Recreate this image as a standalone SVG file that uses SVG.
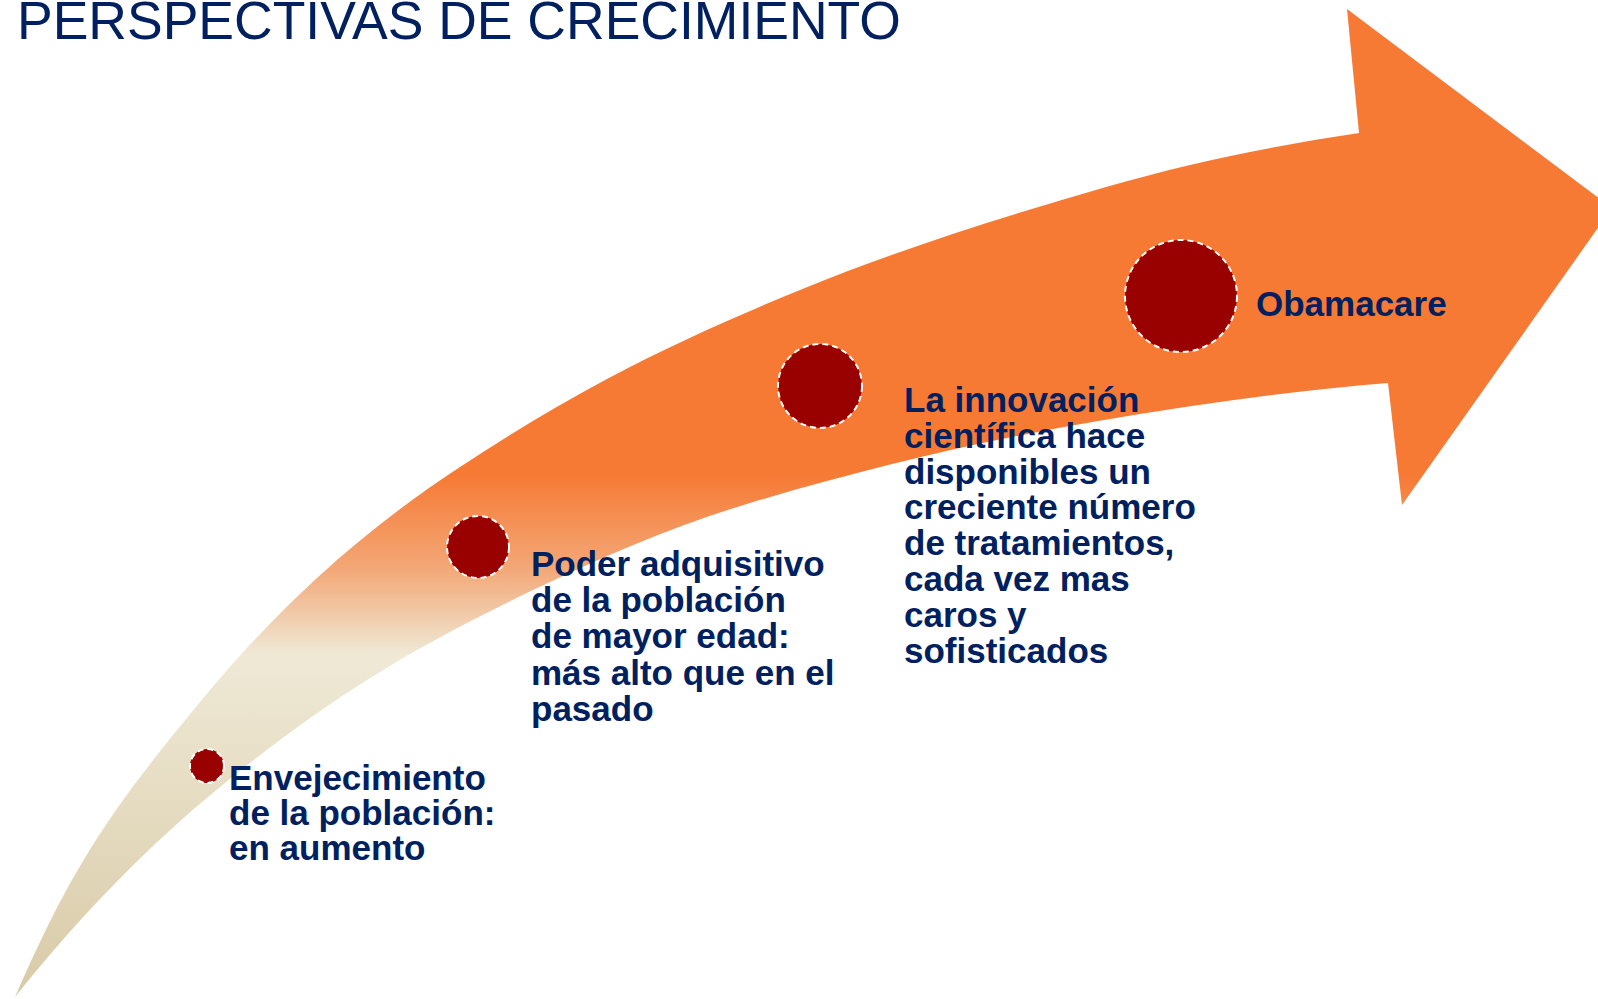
<svg xmlns="http://www.w3.org/2000/svg" width="1598" height="999" viewBox="0 0 1598 999">
<defs>
<linearGradient id="arrowGrad" gradientUnits="userSpaceOnUse" x1="0" y1="0" x2="0" y2="999">
<stop offset="0" stop-color="#F67A34"/>
<stop offset="0.475" stop-color="#F67A34"/>
<stop offset="0.57" stop-color="#F3A878"/>
<stop offset="0.655" stop-color="#EFE9D6"/>
<stop offset="1" stop-color="#D8CAA6"/>
</linearGradient>
<style>
.title{font-family:"Liberation Sans",Arial,sans-serif;font-size:53.5px;fill:#002060}
.lbl{font-family:"Liberation Sans",Arial,sans-serif;font-size:35px;font-weight:bold;fill:#002060}
.dot{fill:#990000;stroke:#FFFFFF;stroke-width:2;stroke-dasharray:6 4}
</style>
</defs>
<rect width="1598" height="999" fill="#FFFFFF"/>
<text class="title" x="17" y="39">PERSPECTIVAS DE CRECIMIENTO</text>
<g id="connectors">
<path id="arrow" fill="url(#arrowGrad)" d="M15,997 C37.7,944.9 60.3,898.4 83,861 C122,796.6 161,749.6 200,702 C239,654.4 278,613.9 317,578 C363.7,535.1 410.3,499.8 457,469 C507,436 557,405.5 607,379 C671.3,344.9 735.7,316.4 800,290 C902,248.2 1004,216.6 1106,187 C1190.3,162.5 1274.7,145.6 1359,133 L1347,9 L1612,208 L1402,505 L1388,383 C1291.3,390.7 1194.7,404.6 1098,421 C982,440.7 866,468.2 750,503 C677.7,524.7 605.3,555.3 533,590 C477.7,616.6 422.3,645.1 367,680 C318,710.9 269,746.8 220,787 C151.7,843 83.3,911.6 15,997 Z"/>
</g>
<g id="node1">
<circle class="dot" cx="207" cy="766" r="17"/>
<text class="lbl"><tspan x="229" y="790">Envejecimiento</tspan><tspan x="229" y="825">de la población:</tspan><tspan x="229" y="860">en aumento</tspan></text>
</g>
<g id="node2">
<circle class="dot" cx="478" cy="547" r="31"/>
<text class="lbl"><tspan x="531" y="576">Poder adquisitivo</tspan><tspan x="531" y="612">de la población</tspan><tspan x="531" y="648">de mayor edad:</tspan><tspan x="531" y="685">más alto que en el</tspan><tspan x="531" y="721">pasado</tspan></text>
</g>
<g id="node3">
<circle class="dot" cx="820" cy="386" r="42"/>
<text class="lbl"><tspan x="904" y="412">La innovación</tspan><tspan x="904" y="448">científica hace</tspan><tspan x="904" y="484">disponibles un</tspan><tspan x="904" y="519">creciente número</tspan><tspan x="904" y="555">de tratamientos,</tspan><tspan x="904" y="591">cada vez mas</tspan><tspan x="904" y="627">caros y</tspan><tspan x="904" y="663">sofisticados</tspan></text>
</g>
<g id="node4">
<circle class="dot" cx="1181" cy="296" r="56"/>
<text class="lbl" x="1256" y="316">Obamacare</text>
</g>
</svg>
